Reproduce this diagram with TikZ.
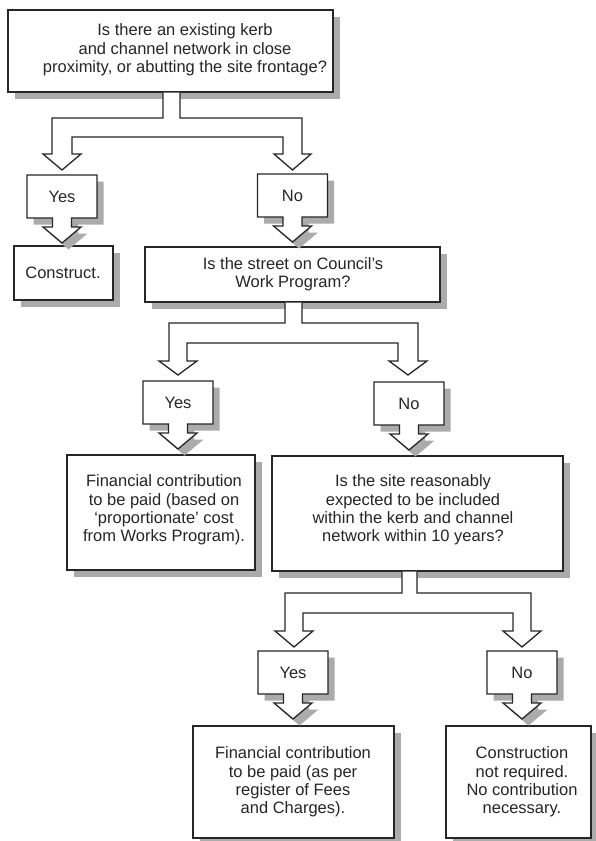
\documentclass[tikz,border=0pt]{standalone}
\usepackage{fontspec}
\setmainfont{Liberation Sans}
\usetikzlibrary{shadows}

\definecolor{ink}{HTML}{262626}
\definecolor{shade}{HTML}{ABABAB}

\tikzset{
  box/.style={draw=ink, line width=1.3pt, fill=white, inner sep=0pt,
    drop shadow={shadow xshift=6.5pt, shadow yshift=-6.5pt, fill=shade, opacity=1}},
  txt/.style={text=ink, font=\fontsize{16.5}{18.3}\selectfont, align=center, inner sep=0pt},
  flow/.style={draw=ink, line width=1.3pt, fill=white, line join=miter},
  shadefill/.style={fill=shade},
}

% Yes/No tag: a box with a block arrow hanging from its lower edge
% #1 style, #2 centre x, #3 top y
\newcommand\tagpath[3]{%
  \path[#1] (#2-35,#3) -- (#2+35,#3) -- (#2+35,#3+43) -- (#2+9.5,#3+43)
    -- (#2+9.5,#3+52) -- (#2+19,#3+52) -- (#2,#3+68) -- (#2-19,#3+52)
    -- (#2-9.5,#3+52) -- (#2-9.5,#3+43) -- (#2-35,#3+43) -- cycle;}
% #1 node name, #2 centre x, #3 top y, #4 text
\newcommand\answertag[4]{%
  \tagpath{shadefill, shift={(6.5,6.5)}}{#2}{#3}
  \tagpath{flow}{#2}{#3}
  \node[txt] (#1) at (#2,#3+21.5) {#4};}

\begin{document}
\begin{tikzpicture}[x=1pt, y=-1pt]
\useasboundingbox (0,0) rectangle (595,841);

% question and outcome boxes
\node[box, minimum width=325pt, minimum height=82pt] (q1) at (170.5,51) {};
\node[txt] (q1t) at (185,50) {Is there an existing kerb\\and channel network in close\\proximity, or abutting the site frontage?};

\node[box, minimum width=99pt, minimum height=54pt] (construct) at (63.5,273) {};
\node[txt] (constructt) at (63,273) {Construct.};

\node[box, minimum width=295pt, minimum height=55pt] (q2) at (292.5,274.5) {};
\node[txt] (q2t) at (293,274) {Is the street on Council’s\\Work Program?};

\node[box, minimum width=188pt, minimum height=115pt] (fin1) at (161,512.5) {};
\node[txt] (fin1t) at (164,510) {Financial contribution\\to be paid (based on\\‘proportionate’ cost\\from Works Program).};

\node[box, minimum width=291pt, minimum height=115pt] (q3) at (417.5,513.5) {};
\node[txt] (q3t) at (413,510) {Is the site reasonably\\expected to be included\\within the kerb and channel\\network within 10 years?};

\node[box, minimum width=201pt, minimum height=112pt] (fin2) at (293.5,782) {};
\node[txt] (fin2t) at (293,782) {Financial contribution\\to be paid (as per\\register of Fees\\and Charges).};

\node[box, minimum width=145pt, minimum height=112pt] (nocon) at (518.5,782) {};
\node[txt] (nocont) at (522,782) {Construction\\not required.\\No contribution\\necessary.};

% forked block arrows leaving each question
\path[flow] (163,92.7) -- (163,118) -- (52,118) -- (52,154) -- (43,154) -- (62,170)
  -- (81,154) -- (72,154) -- (72,137) -- (283,137) -- (283,154) -- (274,154)
  -- (292.5,170) -- (311,154) -- (302,154) -- (302,118) -- (180,118) -- (180,92.7);

\path[flow] (285,302.7) -- (285,323) -- (169,323) -- (169,361) -- (159,361) -- (178,375)
  -- (197,361) -- (187,361) -- (187,343) -- (398,343) -- (398,361) -- (389,361)
  -- (408,375) -- (427,361) -- (418,361) -- (418,323) -- (302,323) -- (302,302.7);

\path[flow] (402,571.7) -- (402,593) -- (285,593) -- (285,631) -- (275,631) -- (294,647)
  -- (313,631) -- (303,631) -- (303,613) -- (513,613) -- (513,631) -- (503,631)
  -- (522,647) -- (541,631) -- (531,631) -- (531,593) -- (417,593) -- (417,571.7);

% answer tags
\answertag{yes1}{62}{175}{Yes}
\answertag{no1}{292.5}{174}{No}
\answertag{yes2}{178}{381}{Yes}
\answertag{no2}{409}{382}{No}
\answertag{yes3}{293}{651}{Yes}
\answertag{no3}{522}{651}{No}
\end{tikzpicture}
\end{document}
